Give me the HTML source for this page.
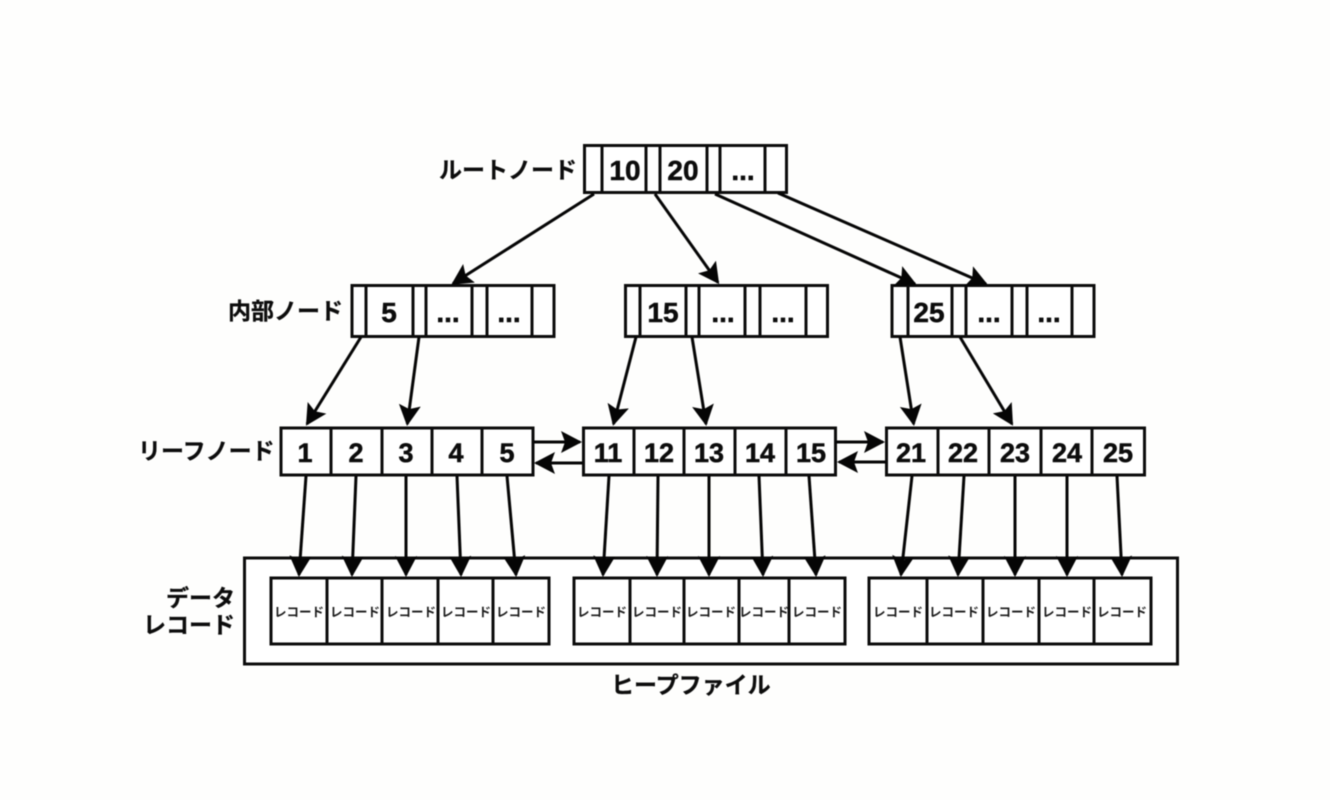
<!DOCTYPE html>
<html lang="ja"><head><meta charset="utf-8"><title>B+ tree</title>
<style>
html,body{margin:0;padding:0;background:#fefefd;width:1330px;height:800px;overflow:hidden}
svg{display:block;filter:blur(.45px)}
.b{fill:#fff;stroke:#0c0c0c;stroke-width:3}
.d{stroke:#0c0c0c;stroke-width:3;fill:none}
.a{stroke:#050505;stroke-width:3;fill:none;marker-end:url(#h)}
.n{font-family:"Liberation Sans",sans-serif;font-weight:700;fill:#0c0c0c;stroke:#0c0c0c;stroke-width:.5;text-anchor:middle}
.l{font-family:"Liberation Sans","Noto Sans CJK JP",sans-serif;font-weight:700;font-size:23px;fill:#0c0c0c;stroke:#0c0c0c;stroke-width:.3}
.r{font-family:"Liberation Sans","Noto Sans CJK JP",sans-serif;font-weight:700;font-size:12.5px;fill:#1a1a1a;text-anchor:middle}
</style></head><body>
<svg width="1330" height="800" viewBox="0 0 1330 800" xmlns="http://www.w3.org/2000/svg">
<defs><marker id="h" markerUnits="userSpaceOnUse" markerWidth="28" markerHeight="26" refX="19" refY="11" orient="auto"><path d="M0 0L21 11L0 22L4 11Z" fill="#050505"/></marker></defs>

<!-- heap -->
<rect class="b" x="244.5" y="558" width="933" height="106"/>

<!-- record groups -->
<rect class="b" x="271" y="578" width="278" height="66"/>
<path class="d" d="M327 578V644M382 578V644M438 578V644M493 578V644"/>
<rect class="b" x="574" y="578" width="271" height="66"/>
<path class="d" d="M630 578V644M684 578V644M739 578V644M789 578V644"/>
<rect class="b" x="869" y="578" width="282" height="66"/>
<path class="d" d="M927 578V644M983 578V644M1039 578V644M1094 578V644"/>

<!-- root -->
<rect class="b" x="584.5" y="145.5" width="202" height="47"/>
<path class="d" d="M602 145V193M646 145V193M660 145V193M707 145V193M720 145V193M765 145V193"/>
<!-- internal -->
<rect class="b" x="352" y="285.5" width="202" height="51"/>
<path class="d" d="M366 285V337M413 285V337M426 285V337M472 285V337M487 285V337M532 285V337"/>
<rect class="b" x="625.5" y="285.5" width="202" height="51"/>
<path class="d" d="M640 285V337M686 285V337M699 285V337M745 285V337M760 285V337M806 285V337"/>
<rect class="b" x="892" y="285.5" width="202" height="51"/>
<path class="d" d="M908 285V337M952 285V337M966 285V337M1012 285V337M1027 285V337M1072 285V337"/>
<!-- leaves -->
<rect class="b" x="281" y="428" width="252" height="47"/>
<path class="d" d="M331 428V475M382 428V475M432 428V475M482 428V475"/>
<rect class="b" x="583.5" y="428" width="252" height="47"/>
<path class="d" d="M634 428V475M684 428V475M735 428V475M786 428V475"/>
<rect class="b" x="886.5" y="428" width="258" height="47"/>
<path class="d" d="M938 428V475M989 428V475M1041 428V475M1092 428V475"/>

<!-- arrows tree -->
<line class="a" x1="594" y1="194" x2="453" y2="283.5"/>
<line class="a" x1="655" y1="194" x2="718" y2="282.5"/>
<line class="a" x1="715" y1="194" x2="915" y2="284"/>
<line class="a" x1="778" y1="193" x2="986" y2="284"/>
<line class="a" x1="361" y1="337" x2="307" y2="424"/>
<line class="a" x1="419" y1="337" x2="407.3" y2="424"/>
<line class="a" x1="636" y1="337" x2="613.5" y2="424"/>
<line class="a" x1="692" y1="337" x2="706" y2="424"/>
<line class="a" x1="900" y1="337" x2="913.7" y2="424"/>
<line class="a" x1="960" y1="337" x2="1012" y2="424"/>
<!-- sibling -->
<line class="a" x1="533" y1="442" x2="580" y2="442"/>
<line class="a" x1="583" y1="463" x2="536" y2="463"/>
<line class="a" x1="836" y1="442" x2="883" y2="442"/>
<line class="a" x1="886" y1="462" x2="839" y2="462"/>
<!-- to records -->
<line class="a" x1="306" y1="476" x2="299" y2="575"/>
<line class="a" x1="356" y1="476" x2="352" y2="575"/>
<line class="a" x1="406" y1="476" x2="406" y2="575"/>
<line class="a" x1="457" y1="476" x2="461" y2="575"/>
<line class="a" x1="507" y1="476" x2="516" y2="575"/>
<line class="a" x1="609" y1="476" x2="603" y2="575"/>
<line class="a" x1="658" y1="476" x2="657" y2="575"/>
<line class="a" x1="709" y1="476" x2="709" y2="575"/>
<line class="a" x1="759" y1="476" x2="763" y2="575"/>
<line class="a" x1="809" y1="476" x2="816" y2="575"/>
<line class="a" x1="912" y1="476" x2="901" y2="575"/>
<line class="a" x1="964" y1="476" x2="958" y2="575"/>
<line class="a" x1="1015" y1="476" x2="1015" y2="575"/>
<line class="a" x1="1067" y1="476" x2="1067" y2="575"/>
<line class="a" x1="1117" y1="476" x2="1122" y2="575"/>

<!-- numbers -->
<g class="n" font-size="28">
<text x="625" y="180">10</text><text x="683" y="180">20</text><text x="743" y="180">...</text>
<text x="389" y="322">5</text><text x="448" y="322">...</text><text x="509" y="322">...</text>
<text x="663" y="322">15</text><text x="723" y="322">...</text><text x="783" y="322">...</text>
<text x="929" y="322">25</text><text x="989" y="322">...</text><text x="1049" y="322">...</text>
</g>
<g class="n" font-size="27">
<text x="305" y="462">1</text><text x="356" y="462">2</text><text x="406" y="462">3</text><text x="456" y="462">4</text><text x="507" y="462">5</text>
<text x="608" y="462">11</text><text x="659" y="462">12</text><text x="709" y="462">13</text><text x="760" y="462">14</text><text x="811" y="462">15</text>
<text x="911" y="462">21</text><text x="963" y="462">22</text><text x="1015" y="462">23</text><text x="1067" y="462">24</text><text x="1118" y="462">25</text>
</g>

<!-- labels -->
<text class="l" x="439" y="178">ルートノード</text>
<text class="l" x="228" y="319">内部ノード</text>
<text class="l" x="138" y="459">リーフノード</text>
<text class="l" x="235" y="606" text-anchor="end">データ</text>
<text class="l" x="235" y="633" text-anchor="end">レコード</text>
<text class="l" x="611" y="693">ヒープファイル</text>

<!-- record text -->
<g class="r">
<text x="299" y="616.5">レコード</text><text x="355" y="616.5">レコード</text><text x="411" y="616.5">レコード</text><text x="466" y="616.5">レコード</text><text x="521" y="616.5">レコード</text>
<text x="602" y="616.5">レコード</text><text x="657" y="616.5">レコード</text><text x="711" y="616.5">レコード</text><text x="764" y="616.5">レコード</text><text x="817" y="616.5">レコード</text>
<text x="898" y="616.5">レコード</text><text x="954" y="616.5">レコード</text><text x="1011" y="616.5">レコード</text><text x="1067" y="616.5">レコード</text><text x="1122" y="616.5">レコード</text>
</g>
</svg>
</body></html>
